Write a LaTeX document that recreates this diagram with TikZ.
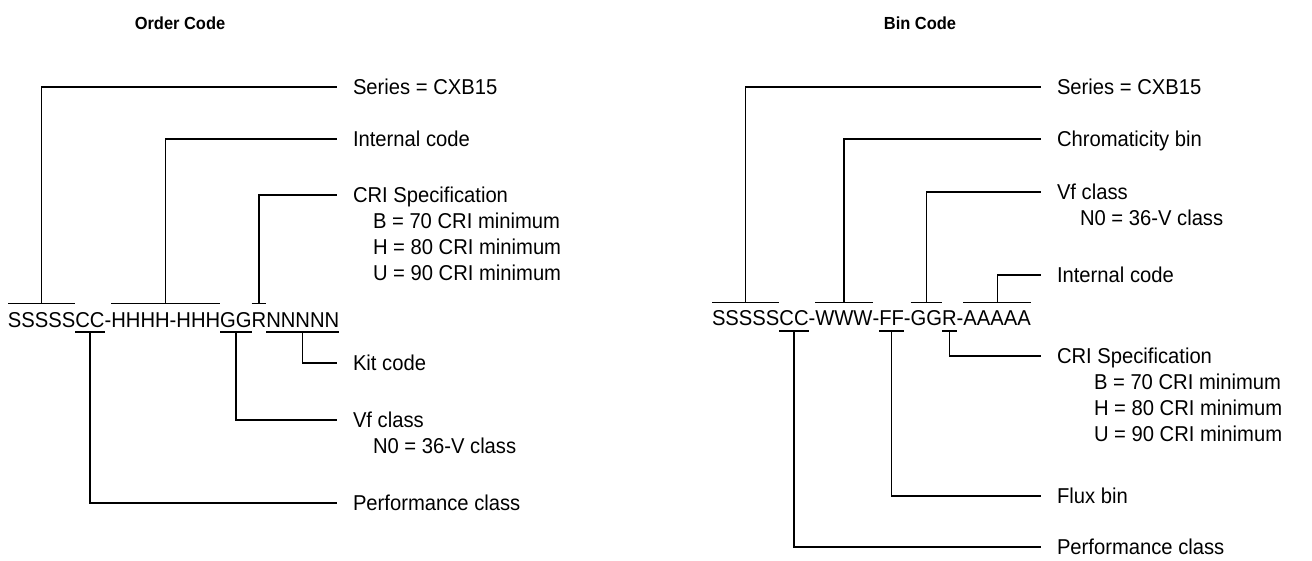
\documentclass[tikz,border=0pt]{standalone}
\usepackage{fontspec}
\setmainfont[FakeStretch=0.94]{Liberation Sans}
\newcommand\lblfont{\fontsize{21.5}{25}\selectfont}
\tikzset{
  lab/.style={inner sep=0pt, outer sep=0pt, anchor=west, text height=15pt, text depth=0pt, font=\lblfont},
  cs/.style={inner sep=0pt, outer sep=0pt, anchor=base west, text height=15.4pt, text depth=0pt, font=\lblfont},
  ttl/.style={font=\bfseries\fontsize{17.5}{20}\selectfont, inner sep=0pt},
  ln/.style={line width=1.2pt}
}
\begin{document}
\begin{tikzpicture}[x=1pt,y=-1pt]
\useasboundingbox (0,0) rectangle (1312,561);
% ---------- titles
\node[ttl] (t1) at (180,23) {Order Code};
\node[ttl] (t2) at (920,23) {Bin Code};
% ---------- left code
\node[cs] (ls) at (8,327) {SSSSS};
\node[cs] (lc) at (ls.base east) {CC};
\node[cs] (lh1) at (lc.base east) {-};
\node[cs] (lh) at (lh1.base east) {HHHH-HHH};
\node[cs] (lg) at (lh.base east) {GG};
\node[cs] (lr) at (lg.base east) {R};
\node[cs] (ln) at (lr.base east) {NNNNN};
% left labels
\node[lab] (lser) at (353,87) {Series = CXB15};
\node[lab] (lint) at (353,139) {Internal code};
\node[lab] (lcri) at (353,195) {CRI Specification};
\node[lab] (lcrib) at (373,221) {B = 70 CRI minimum};
\node[lab] (lcrih) at (373,247) {H = 80 CRI minimum};
\node[lab] (lcriu) at (373,273) {U = 90 CRI minimum};
\node[lab] (lkit) at (353,363) {Kit code};
\node[lab] (lvf) at (353,420) {Vf class};
\node[lab] (lvfn) at (373,446) {N0 = 36-V class};
\node[lab] (lperf) at (353,503) {Performance class};
% left overlines and connectors
\foreach \n in {ls,lh,lr} \draw[ln] ([yshift=8pt]\n.north west) -- ([yshift=8pt]\n.north east);
\foreach \n in {lc,lg,ln} \draw[ln] ([yshift=-5pt]\n.south west) -- ([yshift=-5pt]\n.south east);
\draw[ln] ([yshift=8pt]ls.north) |- ([xshift=-16pt]lser.west);
\draw[ln] ([yshift=8pt]lh.north) |- ([xshift=-16pt]lint.west);
\draw[ln] ([yshift=8pt]lr.north) |- ([xshift=-16pt]lcri.west);
\draw[ln] ([yshift=-5pt]ln.south) |- ([xshift=-16pt]lkit.west);
\draw[ln] ([yshift=-5pt]lg.south) |- ([xshift=-16pt]lvf.west);
\draw[ln] ([yshift=-5pt]lc.south) |- ([xshift=-16pt]lperf.west);
% ---------- right code
\node[cs] (rs) at (712,326) {SSSSS};
\node[cs] (rc) at (rs.base east) {CC};
\node[cs] (rd1) at (rc.base east) {-};
\node[cs] (rw) at (rd1.base east) {WWW};
\node[cs] (rd2) at (rw.base east) {-};
\node[cs] (rf) at (rd2.base east) {FF};
\node[cs] (rd3) at (rf.base east) {-};
\node[cs] (rg) at (rd3.base east) {GG};
\node[cs] (rr) at (rg.base east) {R};
\node[cs] (rd4) at (rr.base east) {-};
\node[cs] (ra) at (rd4.base east) {AAAAA};
% right labels
\node[lab] (rser) at (1057,87) {Series = CXB15};
\node[lab] (rchr) at (1057,139) {Chromaticity bin};
\node[lab] (rvf) at (1057,192) {Vf class};
\node[lab] (rvfn) at (1080,218) {N0 = 36-V class};
\node[lab] (rint) at (1057,275) {Internal code};
\node[lab] (rcri) at (1057,356) {CRI Specification};
\node[lab] (rcrib) at (1094,382) {B = 70 CRI minimum};
\node[lab] (rcrih) at (1094,408) {H = 80 CRI minimum};
\node[lab] (rcriu) at (1094,434) {U = 90 CRI minimum};
\node[lab] (rflux) at (1057,496) {Flux bin};
\node[lab] (rperf) at (1057,547) {Performance class};
% right overlines and connectors
\foreach \n in {rs,rw,rg,ra} \draw[ln] ([yshift=8pt]\n.north west) -- ([yshift=8pt]\n.north east);
\foreach \n in {rc,rf,rr} \draw[ln] ([yshift=-5pt]\n.south west) -- ([yshift=-5pt]\n.south east);
\draw[ln] ([yshift=8pt]rs.north) |- ([xshift=-16pt]rser.west);
\draw[ln] ([yshift=8pt]rw.north) |- ([xshift=-16pt]rchr.west);
\draw[ln] ([yshift=8pt]rg.north) |- ([xshift=-16pt]rvf.west);
\draw[ln] ([yshift=8pt]ra.north) |- ([xshift=-16pt]rint.west);
\draw[ln] ([yshift=-5pt]rr.south) |- ([xshift=-16pt]rcri.west);
\draw[ln] ([yshift=-5pt]rf.south) |- ([xshift=-16pt]rflux.west);
\draw[ln] ([yshift=-5pt]rc.south) |- ([xshift=-16pt]rperf.west);
\end{tikzpicture}
\end{document}
